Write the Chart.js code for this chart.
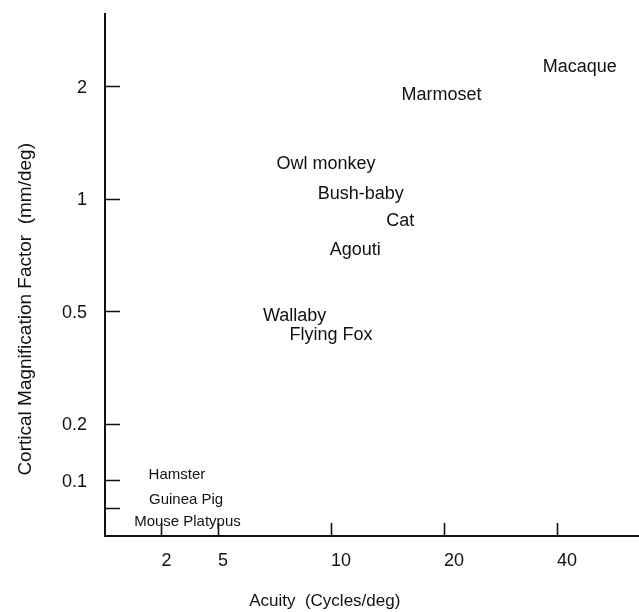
<!DOCTYPE html>
<html>
<head>
<meta charset="utf-8">
<script src="https://cdn.jsdelivr.net/npm/chart.js@4/dist/chart.umd.min.js"></script>
<style>
  html, body { margin: 0; padding: 0; background: #fff; }
  canvas { display: block; }
</style>
</head>
<body>
<canvas id="c" width="639" height="612"></canvas>
<script>
// ---- Data (acuity in cycles/deg, cortical magnification factor in mm/deg) ----
const majorSpecies = ['Macaque', 'Marmoset', 'Owl monkey', 'Bush-baby', 'Cat', 'Agouti', 'Wallaby', 'Flying Fox'];
const majorAcuity  = [46, 19.7, 9.7, 12.0, 15.3, 11.6, 8.0, 10.0];
const majorCMF     = [2.25, 1.89, 1.24, 1.03, 0.87, 0.73, 0.48, 0.41];

const minorSpecies = ['Hamster', 'Guinea Pig', 'Mouse', 'Platypus'];
const minorAcuity  = [2.57, 2.98, 1.85, 4.54];
const minorCMF     = [0.106, 0.061, 0.035, 0.035];

// ---- Tick labels ----
const xTickValues = [2, 5, 10, 20, 40];
const xTickLabels = ['2', '5', '10', '20', '40'];
const yTickValues = [0.05, 0.1, 0.2, 0.5, 1, 2];
const yTickLabels = ['', '0.1', '0.2', '0.5', '1', '2'];

// ---- Axis warp of the original figure (value -> axis unit, log-interpolated between ticks) ----
const xAxisAnchors = [[2, 0.5], [5, 1], [10, 2], [20, 3], [40, 4]];
const yAxisAnchors = [[0.05, 0.25], [0.1, 0.5], [0.2, 1], [0.5, 2], [1, 3], [2, 4]];

function warp(v, anchors) {
  const L = Math.log;
  let i = 0;
  if (v <= anchors[0][0]) i = 0;
  else if (v >= anchors[anchors.length - 1][0]) i = anchors.length - 2;
  else { while (v > anchors[i + 1][0]) i++; }
  const [v0, u0] = anchors[i], [v1, u1] = anchors[i + 1];
  return u0 + (u1 - u0) * (L(v) - L(v0)) / (L(v1) - L(v0));
}

function points(acuity, cmf) {
  return acuity.map((a, i) => ({ x: warp(a, xAxisAnchors), y: warp(cmf[i], yAxisAnchors) }));
}

const FONT = '"Liberation Sans", Arial, Helvetica, sans-serif';
Chart.defaults.font.family = FONT;
Chart.defaults.color = '#111';

const speciesLabels = {
  id: 'speciesLabels',
  afterDatasetsDraw(chart) {
    const ctx = chart.ctx;
    chart.data.datasets.forEach((ds, di) => {
      const meta = chart.getDatasetMeta(di);
      ctx.save();
      ctx.fillStyle = '#111';
      ctx.font = ds.labelFontSize + 'px ' + FONT;
      ctx.textAlign = 'center';
      ctx.textBaseline = 'middle';
      meta.data.forEach((el, i) => {
        ctx.fillText(ds.names[i], el.x, el.y);
      });
      ctx.restore();
    });
  }
};

const innerTicks = {
  id: 'innerTicks',
  afterDraw(chart) {
    const ctx = chart.ctx;
    const a = chart.chartArea;
    const xs = chart.scales.x, ys = chart.scales.y;
    ctx.save();
    ctx.strokeStyle = '#111';
    ctx.lineWidth = 1.6;
    ctx.beginPath();
    xs.ticks.forEach(t => {
      const px = Math.round(xs.getPixelForValue(t.value)) + 0.5;
      ctx.moveTo(px, a.bottom);
      ctx.lineTo(px, a.bottom - 13);
    });
    ys.ticks.forEach(t => {
      const py = Math.round(ys.getPixelForValue(t.value)) + 0.5;
      ctx.moveTo(a.left, py);
      ctx.lineTo(a.left + 15, py);
    });
    ctx.stroke();
    ctx.restore();
  }
};

new Chart(document.getElementById('c'), {
  type: 'scatter',
  data: {
    datasets: [
      { label: 'Species', names: majorSpecies, labelFontSize: 18, data: points(majorAcuity, majorCMF), pointRadius: 0, pointHoverRadius: 0 },
      { label: 'Small species', names: minorSpecies, labelFontSize: 15, data: points(minorAcuity, minorCMF), pointRadius: 0, pointHoverRadius: 0 }
    ]
  },
  options: {
    responsive: false,
    animation: false,
    devicePixelRatio: 1,
    layout: { padding: { top: 14, right: 0, bottom: 0, left: 0 } },
    plugins: { legend: { display: false }, tooltip: { enabled: false } },
    scales: {
      x: {
        type: 'linear',
        min: 0,
        max: 4.726,
        afterBuildTicks: s => { s.ticks = xTickValues.map(v => ({ value: warp(v, xAxisAnchors) })); },
        afterFit: s => { s.height = 76; s.paddingLeft = 0; s.paddingRight = 0; },
        ticks: {
          callback: (v, i) => xTickLabels[i],
          font: { size: 18 },
          color: '#111',
          align: 'start',
          padding: 14,
          maxRotation: 0,
          autoSkip: false
        },
        grid: { display: true, drawOnChartArea: false, drawTicks: false },
        border: { display: true, color: '#111', width: 2 },
        title: {
          display: true,
          text: 'Acuity  (Cycles/deg)' + '\u0020'.repeat(20),
          font: { size: 17 },
          color: '#111',
          padding: { top: 0, bottom: 0 }
        }
      },
      y: {
        type: 'linear',
        min: 0,
        max: 4.64,
        afterBuildTicks: s => { s.ticks = yTickValues.map(v => ({ value: warp(v, yAxisAnchors) })); },
        afterFit: s => { s.width = 105; s.paddingTop = 0; s.paddingBottom = 0; },
        ticks: {
          callback: (v, i) => yTickLabels[i],
          font: { size: 18 },
          color: '#111',
          padding: 18,
          labelOffset: 2,
          autoSkip: false
        },
        grid: { display: true, drawOnChartArea: false, drawTicks: false },
        border: { display: true, color: '#111', width: 2 },
        title: {
          display: true,
          text: 'Cortical Magnification Factor  (mm/deg)' + '\u0020'.repeat(13),
          font: { size: 19 },
          color: '#111',
          padding: { top: 14, bottom: 0 }
        }
      }
    }
  },
  plugins: [speciesLabels, innerTicks]
});
</script>
</body>
</html>
